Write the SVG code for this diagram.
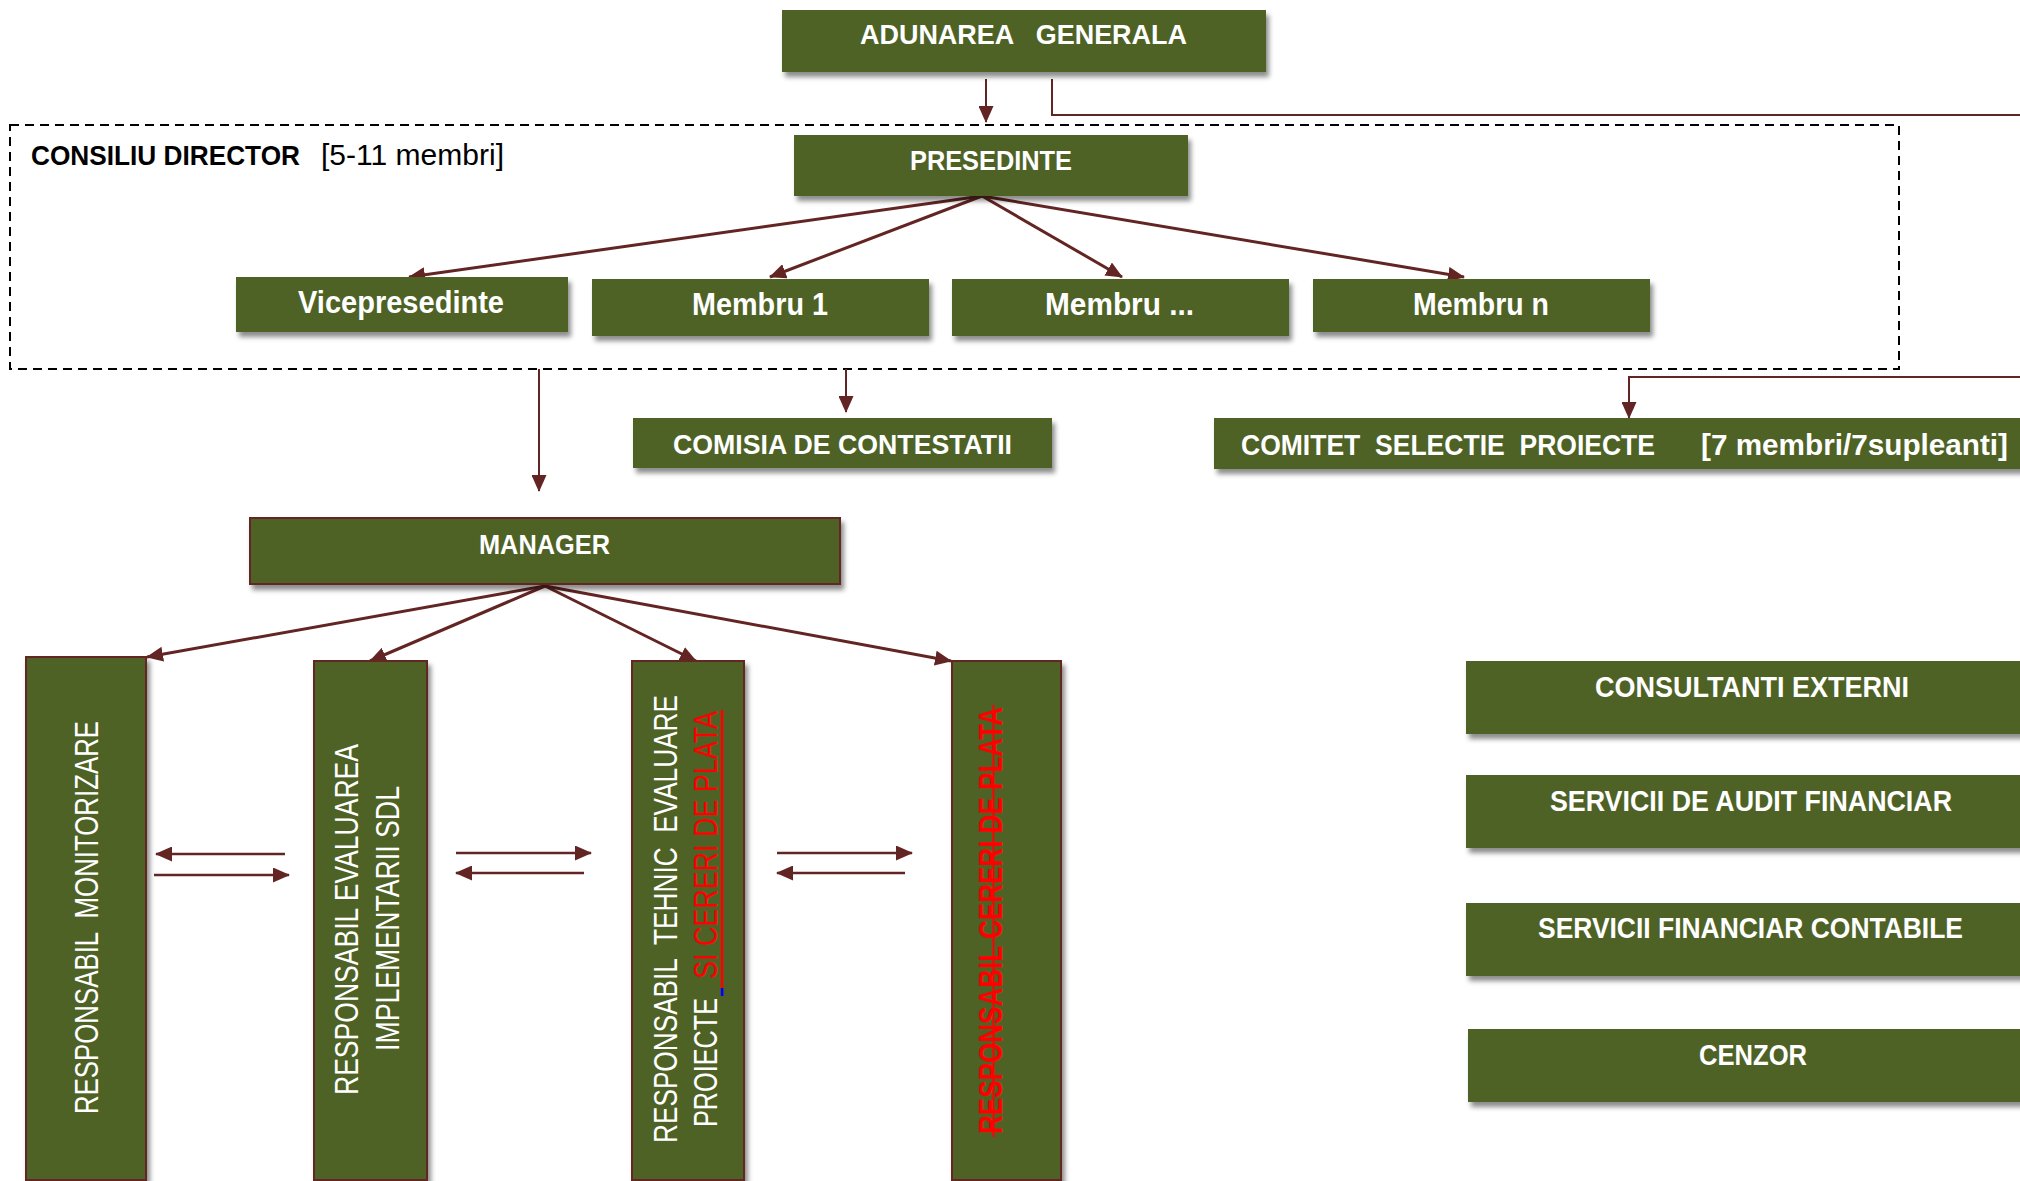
<svg xmlns="http://www.w3.org/2000/svg" width="2020" height="1181" viewBox="0 0 2020 1181">
<style>
.box{fill:#4F6228;filter:url(#sh)}
.bb{fill:#4F6228;stroke:#632523;stroke-width:2;filter:url(#sh)}
.t{font-family:"Liberation Sans",Arial,sans-serif;font-weight:bold;fill:#fff;font-size:28px}
.tl{font-family:"Liberation Sans",Arial,sans-serif;font-weight:bold;fill:#fff;font-size:31px}
.tr{font-family:"Liberation Sans",Arial,sans-serif;font-weight:bold;fill:#fff;font-size:29px}
.v{font-family:"Liberation Sans",Arial,sans-serif;fill:#fff;font-size:33px}
.red{fill:#FF0000}
.c{fill:none;stroke:#632523;stroke-width:3}
.c2{fill:none;stroke:#632523;stroke-width:2}
.c3{fill:none;stroke:#632523;stroke-width:2.5}
</style>
<defs>
<filter id="sh" x="-10%" y="-20%" width="130%" height="160%">
<feDropShadow dx="3" dy="5" stdDeviation="2.5" flood-color="#000" flood-opacity="0.45"/>
</filter>
<marker id="ah" markerUnits="userSpaceOnUse" markerWidth="17" markerHeight="15" refX="16" refY="7.5" orient="auto">
<path d="M0,0 L17,7.5 L0,15 z" fill="#632523"/>
</marker>
</defs>
<rect width="2020" height="1181" fill="#fff"/>

<g id="consiliu-director">
<rect x="10" y="125" width="1889" height="244" fill="none" stroke="#000" stroke-width="2" stroke-dasharray="9 6"/>
<text x="31" y="165" font-family="Liberation Sans,Arial,sans-serif" font-size="28" font-weight="bold" fill="#000" textLength="269" lengthAdjust="spacingAndGlyphs">CONSILIU DIRECTOR</text>
<text x="321" y="165" font-family="Liberation Sans,Arial,sans-serif" font-size="29" fill="#000" textLength="183" lengthAdjust="spacingAndGlyphs">[5-11 membri]</text>
</g>

<g id="connectors">
<path class="c2" d="M986,79 V122" marker-end="url(#ah)"/>
<path class="c2" d="M1052,79 V115 H2020"/>
<path class="c2" d="M2020,377 H1629 V418" marker-end="url(#ah)"/>
<path class="c" d="M982,196 L409,277" marker-end="url(#ah)"/>
<path class="c" d="M982,196 L770,277" marker-end="url(#ah)"/>
<path class="c" d="M982,196 L1122,277" marker-end="url(#ah)"/>
<path class="c" d="M982,196 L1464,277" marker-end="url(#ah)"/>
<path class="c2" d="M539,369 V491" marker-end="url(#ah)"/>
<path class="c2" d="M846,369 V412" marker-end="url(#ah)"/>
<path class="c" d="M545,586 L147,657" marker-end="url(#ah)"/>
<path class="c" d="M545,586 L370,661" marker-end="url(#ah)"/>
<path class="c" d="M545,586 L696,661" marker-end="url(#ah)"/>
<path class="c" d="M545,586 L951,661" marker-end="url(#ah)"/>
<path class="c3" d="M285,854 H156" marker-end="url(#ah)"/>
<path class="c3" d="M154,875 H289" marker-end="url(#ah)"/>
<path class="c3" d="M456,853 H591" marker-end="url(#ah)"/>
<path class="c3" d="M584,873 H456" marker-end="url(#ah)"/>
<path class="c3" d="M777,853 H912" marker-end="url(#ah)"/>
<path class="c3" d="M905,873 H777" marker-end="url(#ah)"/>
</g>

<g id="adunarea-generala">
<rect class="box" x="782" y="10" width="484" height="62"/>
<text class="t" x="860" y="44" xml:space="preserve" textLength="327" lengthAdjust="spacingAndGlyphs">ADUNAREA   GENERALA</text>
</g>
<g id="presedinte">
<rect class="box" x="794" y="135" width="394" height="61"/>
<text class="t" x="910" y="170" textLength="162" lengthAdjust="spacingAndGlyphs">PRESEDINTE</text>
</g>
<g id="vicepresedinte">
<rect class="box" x="236" y="277" width="332" height="55"/>
<text class="tl" x="298" y="313" textLength="206" lengthAdjust="spacingAndGlyphs">Vicepresedinte</text>
</g>
<g id="membru-1">
<rect class="box" x="592" y="279" width="337" height="57"/>
<text class="tl" x="692" y="315" textLength="136" lengthAdjust="spacingAndGlyphs">Membru 1</text>
</g>
<g id="membru-dots">
<rect class="box" x="952" y="279" width="337" height="57"/>
<text class="tl" x="1045" y="315" textLength="149" lengthAdjust="spacingAndGlyphs">Membru ...</text>
</g>
<g id="membru-n">
<rect class="box" x="1313" y="279" width="337" height="53"/>
<text class="tl" x="1413" y="315" textLength="136" lengthAdjust="spacingAndGlyphs">Membru n</text>
</g>
<g id="comisia-contestatii">
<rect class="box" x="633" y="418" width="419" height="50"/>
<text class="t" x="673" y="454" textLength="339" lengthAdjust="spacingAndGlyphs">COMISIA DE CONTESTATII</text>
</g>
<g id="comitet-selectie">
<rect class="box" x="1214" y="418" width="830" height="51"/>
<text class="tr" x="1241" y="455" xml:space="preserve" textLength="414" lengthAdjust="spacingAndGlyphs">COMITET  SELECTIE  PROIECTE</text>
<text class="tr" x="1701" y="455" textLength="307" lengthAdjust="spacingAndGlyphs">[7 membri/7supleanti]</text>
</g>
<g id="manager">
<rect class="bb" x="250" y="518" width="590" height="66"/>
<text class="t" x="479" y="554" textLength="131" lengthAdjust="spacingAndGlyphs">MANAGER</text>
</g>
<g id="resp-monitorizare">
<rect class="bb" x="26" y="657" width="120" height="523"/>
<text class="v" transform="rotate(-90)" x="-1114" y="98" xml:space="preserve" textLength="393" lengthAdjust="spacingAndGlyphs">RESPONSABIL  MONITORIZARE</text>
</g>
<g id="resp-evaluarea-sdl">
<rect class="bb" x="314" y="661" width="113" height="519"/>
<text class="v" transform="rotate(-90)" x="-1095" y="358" textLength="351" lengthAdjust="spacingAndGlyphs">RESPONSABIL EVALUAREA</text>
<text class="v" transform="rotate(-90)" x="-1051" y="399" textLength="265" lengthAdjust="spacingAndGlyphs">IMPLEMENTARII SDL</text>
</g>
<g id="resp-tehnic">
<rect class="bb" x="632" y="661" width="112" height="519"/>
<text class="v" transform="rotate(-90)" x="-1143" y="677" xml:space="preserve" textLength="448" lengthAdjust="spacingAndGlyphs">RESPONSABIL  TEHNIC  EVALUARE</text>
<text class="v" transform="rotate(-90)" x="-1127" y="717" textLength="129" lengthAdjust="spacingAndGlyphs">PROIECTE</text>
<text class="v red" transform="rotate(-90)" x="-979" y="717" textLength="268" lengthAdjust="spacingAndGlyphs">SI CERERI DE PLATA</text>
<line x1="722" y1="988" x2="722" y2="710" stroke="#FF0000" stroke-width="2.5"/>
<rect x="720.8" y="988" width="2.6" height="8" fill="#0000FF"/>
</g>
<g id="resp-cereri-plata">
<rect class="bb" x="952" y="661" width="109" height="519"/>
<text class="v red" transform="rotate(-90)" x="-1134" y="1002" font-weight="bold" textLength="427" lengthAdjust="spacingAndGlyphs">RESPONSABIL CERERI DE PLATA</text>
<line x1="993.5" y1="1137" x2="993.5" y2="705" stroke="#FF0000" stroke-width="2"/>
</g>
<g id="consultanti-externi">
<rect class="box" x="1466" y="661" width="600" height="73"/>
<text class="tr" x="1595" y="697" textLength="314" lengthAdjust="spacingAndGlyphs">CONSULTANTI EXTERNI</text>
</g>
<g id="audit-financiar">
<rect class="box" x="1466" y="775" width="600" height="73"/>
<text class="tr" x="1550" y="811" textLength="402" lengthAdjust="spacingAndGlyphs">SERVICII DE AUDIT FINANCIAR</text>
</g>
<g id="financiar-contabile">
<rect class="box" x="1466" y="903" width="600" height="73"/>
<text class="tr" x="1538" y="938" textLength="425" lengthAdjust="spacingAndGlyphs">SERVICII FINANCIAR CONTABILE</text>
</g>
<g id="cenzor">
<rect class="box" x="1468" y="1029" width="600" height="73"/>
<text class="tr" x="1699" y="1065" textLength="108" lengthAdjust="spacingAndGlyphs">CENZOR</text>
</g>
</svg>
